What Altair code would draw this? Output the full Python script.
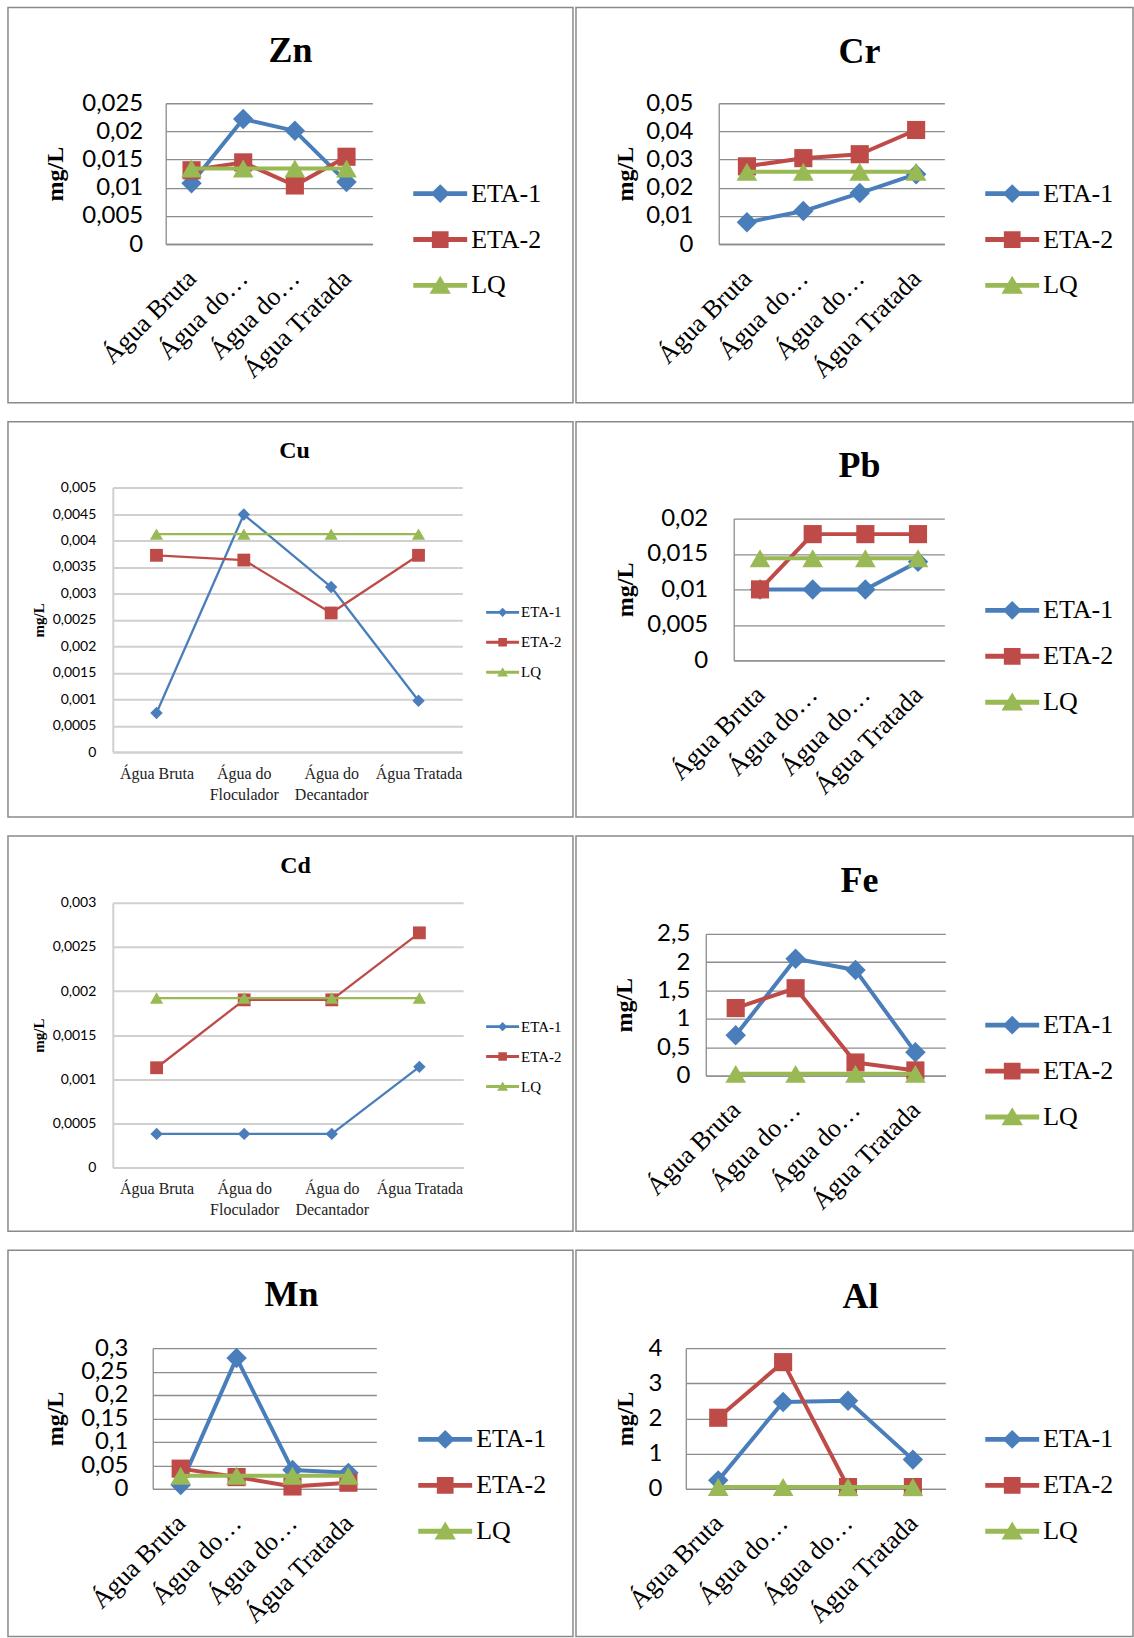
import altair as alt
import pandas as pd

# Pontos de coleta e séries
categorias = ["Água Bruta", "Água do Floculador", "Água do Decantador", "Água Tratada"]
series = ["ETA-1", "ETA-2", "LQ"]
cores = ["#4A7EBB", "#BE4B48", "#98B954"]
formas = ["diamond", "square", "triangle-up"]

# Concentrações (mg/L)
zn_eta1 = [0.0108, 0.0222, 0.0201, 0.0110]
zn_eta2 = [0.0131, 0.0145, 0.0104, 0.0155]
zn_lq = [0.0134, 0.0134, 0.0134, 0.0134]
zn_ticks = [0, 0.005, 0.01, 0.015, 0.02, 0.025]

cr_eta1 = [0.0077, 0.0117, 0.0181, 0.0248]
cr_eta2 = [0.0276, 0.0305, 0.0319, 0.0405]
cr_lq = [0.0257, 0.0257, 0.0257, 0.0257]
cr_ticks = [0, 0.01, 0.02, 0.03, 0.04, 0.05]

cu_eta1 = [0.00074, 0.00449, 0.00312, 0.00097]
cu_eta2 = [0.00372, 0.00363, 0.00263, 0.00372]
cu_lq = [0.00412, 0.00412, 0.00412, 0.00412]
cu_ticks = [0, 0.0005, 0.001, 0.0015, 0.002, 0.0025, 0.003, 0.0035, 0.004, 0.0045, 0.005]

pb_eta1 = [0.0100, 0.0100, 0.0100, 0.0139]
pb_eta2 = [0.0100, 0.0178, 0.0178, 0.0178]
pb_lq = [0.0144, 0.0144, 0.0144, 0.0144]
pb_ticks = [0, 0.005, 0.01, 0.015, 0.02]

cd_eta1 = [0.00038, 0.00038, 0.00038, 0.00114]
cd_eta2 = [0.00113, 0.00190, 0.00190, 0.00266]
cd_lq = [0.00192, 0.00192, 0.00192, 0.00192]
cd_ticks = [0, 0.0005, 0.001, 0.0015, 0.002, 0.0025, 0.003]

fe_eta1 = [0.71, 2.06, 1.86, 0.41]
fe_eta2 = [1.19, 1.54, 0.23, 0.09]
fe_lq = [0.03, 0.03, 0.03, 0.03]
fe_ticks = [0, 0.5, 1, 1.5, 2, 2.5]

mn_eta1 = [0.008, 0.279, 0.040, 0.034]
mn_eta2 = [0.043, 0.025, 0.005, 0.013]
mn_lq = [0.028, 0.028, 0.028, 0.028]
mn_ticks = [0, 0.05, 0.1, 0.15, 0.2, 0.25, 0.3]

al_eta1 = [0.24, 2.47, 2.50, 0.83]
al_eta2 = [2.02, 3.60, 0.05, 0.05]
al_lq = [0.05, 0.05, 0.05, 0.05]
al_ticks = [0, 1, 2, 3, 4]

SERIF = "Liberation Serif"
SANS = "Lato"


def simbolos(d, q, t):
    """Legend glyphs: a horizontal line with the series marker in the middle."""
    barra = "M-1,-0.09H1V0.09H-1Z "
    return [
        barra + f"M0,{-d}L{d},0L0,{d}L{-d},0Z",
        barra + f"M{-q},{-q}H{q}V{q}H{-q}Z",
        barra + f"M0,{-t}L{t * 1.1},{t * 0.85}H{-t * 1.1}Z",
    ]


MODERNO = dict(
    line_w=4, marker=[420, 330, 430], tick_font=24, xlab_font=26, rotated=True,
    title_font=36, ytitle_font=24, leg_font=26, leg_size=2916, leg_off=4,
    leg_row=6, grid="#8c8c8c", grid_w=1.3, xlab_pad=30,
    paths=simbolos(0.35, 0.31, 0.36),
)
ANTIGO = dict(
    line_w=2.3, marker=[155, 165, 175], tick_font=14, xlab_font=16, rotated=False,
    title_font=24, ytitle_font=15, leg_font=15, leg_size=1089, leg_off=2,
    leg_row=5, grid="#d0d0d0", grid_w=2, xlab_pad=13,
    paths=simbolos(0.28, 0.26, 0.3),
)


def tabela(eta1, eta2, lq):
    linhas = []
    for serie, vals in zip(series, (eta1, eta2, lq)):
        for cat, v in zip(categorias, vals):
            linhas.append({"categoria": cat, "serie": serie, "valor": v})
    return pd.DataFrame(linhas)


def painel(nome, dados, ticks, g, st):
    df = tabela(*dados)
    W, H = g["w"], g["h"]

    if st["rotated"]:
        eixo_x = alt.Axis(
            title=None, orient="bottom", offset=g["yb"] - H, grid=False, ticks=False,
            domain=True, domainColor=st["grid"], domainWidth=st["grid_w"],
            labelAngle=315, labelAlign="right", labelBaseline="middle",
            labelFont=SERIF, labelFontSize=st["xlab_font"], labelColor="black",
            labelPadding=st["xlab_pad"], labelOverlap=False, labelLimit=400,
            labelExpr="indexof(datum.label, 'do ') > 0 ? 'Água do…' : datum.label",
        )
    else:
        eixo_x = alt.Axis(
            title=None, orient="bottom", offset=g["yb"] - H, grid=False, ticks=False,
            domain=True, domainColor=st["grid"], domainWidth=st["grid_w"],
            labelAngle=0, labelAlign="center", labelBaseline="top",
            labelFont=SERIF, labelFontSize=st["xlab_font"], labelColor="#222222",
            labelPadding=st["xlab_pad"], labelOverlap=False, labelLineHeight=21,
            labelExpr="indexof(datum.label, 'do ') > 0 ? ['Água do', slice(datum.label, 8)] : datum.label",
        )

    eixo_y = alt.Axis(
        title="mg/L", orient="left", offset=-g["x0"], values=ticks,
        labelExpr="replace(toString(datum.value), '.', ',')",
        labelFont=SANS, labelFontSize=st["tick_font"], labelColor="black",
        labelPadding=g["lp"], labelOverlap=False, ticks=False,
        domain=True, domainColor=st["grid"], domainWidth=st["grid_w"],
        grid=True, gridColor=st["grid"], gridWidth=st["grid_w"],
        titleFont=SERIF, titleFontWeight="bold", titleFontSize=st["ytitle_font"],
        titleColor="black", titleAngle=270, titleAlign="center", titleBaseline="middle",
        titleX=g["ylx"] - g["x0"], titleY=(g["yt"] + g["yb"]) / 2,
    )

    x = alt.X("categoria:N", sort=categorias, axis=eixo_x,
              scale=alt.Scale(type="point", domain=categorias,
                              range=[g["x0"], g["x1"]], padding=0.5))
    y = alt.Y("valor:Q", axis=eixo_y,
              scale=alt.Scale(domain=[ticks[0], ticks[-1]], range=[g["yb"], g["yt"]],
                              nice=False, zero=False))

    camadas = []
    for serie, cor, forma, tam in zip(series, cores, formas, st["marker"]):
        sub = alt.Chart(df).transform_filter(alt.datum.serie == serie)
        camadas.append(
            sub.mark_line(color=cor, strokeWidth=st["line_w"], strokeJoin="round",
                          strokeCap="round").encode(x=x, y=y)
        )
        camadas.append(
            sub.mark_point(shape=forma, filled=True, size=tam, color=cor, opacity=1,
                           strokeWidth=0).encode(x=x, y=y)
        )

    leg = alt.Legend(
        title=None, orient="none", legendX=g["lx"],
        legendY=g["ly"] - (st["leg_size"] ** 0.5) / 2,
        symbolSize=st["leg_size"], symbolStrokeWidth=0, symbolOpacity=1,
        labelFont=SERIF, labelFontSize=st["leg_font"], labelColor="black",
        labelOffset=st["leg_off"], rowPadding=st["leg_row"], padding=0,
        labelLimit=300, direction="vertical",
    )
    legenda = alt.Chart(df).transform_filter("false").mark_point(
        filled=True, opacity=1
    ).encode(
        color=alt.Color("serie:N", scale=alt.Scale(domain=series, range=cores), legend=leg),
        shape=alt.Shape("serie:N", scale=alt.Scale(domain=series, range=st["paths"]), legend=leg),
    )

    titulo = alt.Chart(pd.DataFrame({"t": [nome]})).mark_text(
        font=SERIF, fontWeight="bold", fontSize=st["title_font"], color="black",
        align="center", baseline="middle",
    ).encode(text="t:N", x=alt.value(g["tx"]), y=alt.value(g["ty"]))

    return alt.layer(*camadas, legenda, titulo).properties(width=W, height=H)


WL, WR = 566, 558
geo = {
    "Zn": dict(w=WL, h=396, x0=158, x1=365, yt=96, yb=237, tx=283, ty=44, lx=406, ly=186.5, ylx=48, lp=23),
    "Cr": dict(w=WR, h=396, x0=143, x1=369, yt=96, yb=237, tx=284, ty=45, lx=410, ly=186.5, ylx=50, lp=26),
    "Cu": dict(w=WL, h=396, x0=105, x1=455, yt=66, yb=331, tx=287, ty=29, lx=479, ly=191, ylx=31, lp=17),
    "Pb": dict(w=WR, h=396, x0=158, x1=369, yt=97, yb=239, tx=284, ty=44, lx=410, ly=189, ylx=50, lp=26),
    "Cd": dict(w=WL, h=396, x0=105, x1=456, yt=67, yb=332, tx=288, ty=30, lx=479, ly=191, ylx=31, lp=17),
    "Fe": dict(w=WR, h=396, x0=130, x1=370, yt=98, yb=240, tx=284, ty=45, lx=410, ly=189.5, ylx=49, lp=16),
    "Mn": dict(w=WL, h=387, x0=145, x1=369, yt=98, yb=239, tx=284, ty=45, lx=411, ly=189.5, ylx=48, lp=25),
    "Al": dict(w=WR, h=387, x0=110, x1=370, yt=98, yb=239, tx=285, ty=47, lx=410, ly=189.5, ylx=50, lp=24),
}

zn = painel("Zn", (zn_eta1, zn_eta2, zn_lq), zn_ticks, geo["Zn"], MODERNO)
cr = painel("Cr", (cr_eta1, cr_eta2, cr_lq), cr_ticks, geo["Cr"], MODERNO)
cu = painel("Cu", (cu_eta1, cu_eta2, cu_lq), cu_ticks, geo["Cu"], ANTIGO)
pb = painel("Pb", (pb_eta1, pb_eta2, pb_lq), pb_ticks, geo["Pb"], MODERNO)
cd = painel("Cd", (cd_eta1, cd_eta2, cd_lq), cd_ticks, geo["Cd"], ANTIGO)
fe = painel("Fe", (fe_eta1, fe_eta2, fe_lq), fe_ticks, geo["Fe"], MODERNO)
mn = painel("Mn", (mn_eta1, mn_eta2, mn_lq), mn_ticks, geo["Mn"], MODERNO)
al = painel("Al", (al_eta1, al_eta2, al_lq), al_ticks, geo["Al"], MODERNO)


def linha(a, b):
    return alt.hconcat(a, b, spacing=1).resolve_scale(color="independent", shape="independent")


chart = alt.vconcat(
    linha(zn, cr),
    linha(cu, pb),
    linha(cd, fe),
    linha(mn, al),
    spacing=17,
).resolve_scale(
    color="independent", shape="independent"
).properties(
    padding={"left": 7, "top": 5, "right": 0, "bottom": 0},
    background="white",
).configure_view(stroke="#8a8a8a", strokeWidth=1.5)

chart.save("out.html", embed_options={"renderer": "svg", "actions": False})
